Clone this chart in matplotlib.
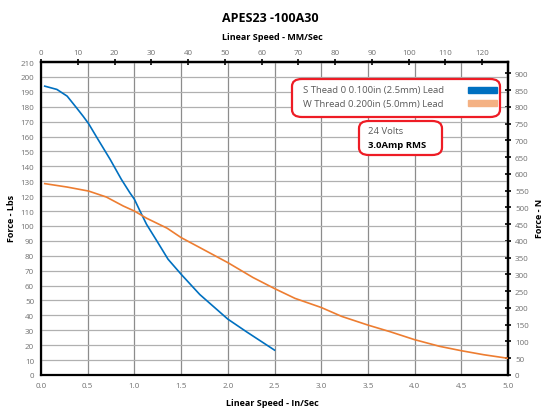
import matplotlib
matplotlib.use('Agg')
import matplotlib.pyplot as plt
from matplotlib.patches import FancyBboxPatch, Rectangle
import numpy as np

plt.rcParams['font.family'] = ['Open Sans', 'DejaVu Sans']

# S thread 0.100in lead (blue)
s_speed = [0.04, 0.17, 0.28, 0.38, 0.45, 0.51, 0.61, 0.74, 0.86, 0.95, 1.00, 1.06, 1.13, 1.24,
           1.36, 1.50, 1.70, 2.00, 2.20, 2.50]
s_force = [193.8, 191.6, 187.1, 179.3, 173.7, 168.6, 158.1, 144.7, 131.3, 122.4, 117.9, 110.0, 101.1, 90.0,
           77.7, 67.6, 54.0, 37.5, 29.0, 16.7]

# W thread 0.200in lead (orange)
w_speed = [0.04, 0.28, 0.51, 0.70, 0.88, 1.00, 1.13, 1.35, 1.50, 1.70, 2.00, 2.27, 2.50, 2.72, 3.00,
           3.22, 3.50, 3.74, 4.00, 4.27, 4.50, 4.74, 5.00]
w_force = [128.4, 126.1, 123.4, 119.4, 113.4, 110.0, 105.2, 98.5, 92.2, 85.5, 75.4, 65.4, 58.0, 51.4, 45.3,
           39.3, 33.5, 29.0, 23.7, 19.2, 16.3, 13.6, 11.2]

x_ticks = np.arange(0, 5.01, 0.5)
y_ticks = np.arange(0, 211, 10)
mm_ticks = np.arange(0, 121, 10)
n_ticks = np.arange(0, 901, 50)

legend_labels = ['S Thead 0 0.100in (2.5mm) Lead', 'W Thread 0.200in (5.0mm) Lead']
legend_colors = ['#0070c0', '#f4b183']
note_lines = ['24 Volts', '3.0Amp RMS']

W, H = 549, 410
fig = plt.figure(figsize=(W / 100, H / 100), dpi=100)
ax = fig.add_axes([41 / W, (H - 376) / H, 467 / W, 313 / H])

ax.plot(s_speed, s_force, color='#0070c0', lw=1.2, zorder=3, solid_joinstyle='round')
ax.plot(w_speed, w_force, color='#ed7d31', lw=1.2, zorder=3, solid_joinstyle='round')

ax.set_xlim(0, 5)
ax.set_ylim(0, 210)
ax.set_xticks(x_ticks)
ax.set_xticklabels([f'{v:.1f}' for v in x_ticks])
ax.set_yticks(y_ticks)
ax.grid(axis='y', color='#b0b0b0', lw=0.9)
ax.grid(axis='x', color='#8c8c8c', lw=0.9)
ax.tick_params(length=0, labelsize=5.8, labelcolor='#707070', pad=5)
for s in ax.spines.values():
    s.set_linewidth(1.6)
    s.set_color('black')

top = ax.secondary_xaxis('top', functions=(lambda x: x * 25.4, lambda x: x / 25.4))
top.set_xticks(mm_ticks)
top.tick_params(direction='inout', length=4, width=1.2, labelsize=5.8, labelcolor='#707070', pad=2)
top.spines['top'].set_linewidth(1.6)

right = ax.secondary_yaxis('right', functions=(lambda y: y * 4.448, lambda y: y / 4.448))
right.set_yticks(n_ticks)
right.tick_params(direction='inout', length=4, width=1.2, labelsize=5.8, labelcolor='#707070', pad=3)
right.spines['right'].set_linewidth(1.6)

# axis titles placed by pixel position
lab = dict(fontsize=6.5, fontweight='bold', ha='center', va='center')
fig.text(270 / W, 1 - 18 / H, 'APES23 -100A30', ha='center', va='center', fontsize=9, fontweight='bold')
fig.text(272 / W, 1 - 38 / H, 'Linear Speed - MM/Sec', **lab)
fig.text(272 / W, 1 - 404 / H, 'Linear Speed - In/Sec', **lab)
fig.text(12 / W, 1 - 218 / H, 'Force - Lbs', rotation=90, **lab)
fig.text(539 / W, 1 - 218 / H, 'Force - N', rotation=90, **lab)

# legend box
fig.patches.append(FancyBboxPatch((292 / W, (H - 118) / H), 208 / W, 38 / H,
                                  boxstyle='round,pad=0,rounding_size=0.018',
                                  transform=fig.transFigure, fc='white', ec='#ee1c25', lw=1.6, zorder=5))
for i, (txt, col) in enumerate(zip(legend_labels, legend_colors)):
    yc = 91 + i * 13
    fig.text(303 / W, 1 - yc / H, txt, ha='left', va='center', fontsize=6.8, color='#595959', zorder=6)
    fig.patches.append(Rectangle((468 / W, 1 - (yc + 3) / H), 29 / W, 6 / H,
                                 transform=fig.transFigure, color=col, zorder=6))

# note box
fig.patches.append(FancyBboxPatch((359 / W, (H - 156) / H), 83 / W, 34 / H,
                                  boxstyle='round,pad=0,rounding_size=0.018',
                                  transform=fig.transFigure, fc='white', ec='#ee1c25', lw=1.6, zorder=5))
fig.text(368 / W, 1 - 132 / H, note_lines[0], ha='left', va='center', fontsize=6.8, color='#595959', zorder=6)
fig.text(368 / W, 1 - 146 / H, note_lines[1], ha='left', va='center', fontsize=6.8, fontweight='bold',
         color='black', zorder=6)

fig.savefig('out.png', dpi=100)
